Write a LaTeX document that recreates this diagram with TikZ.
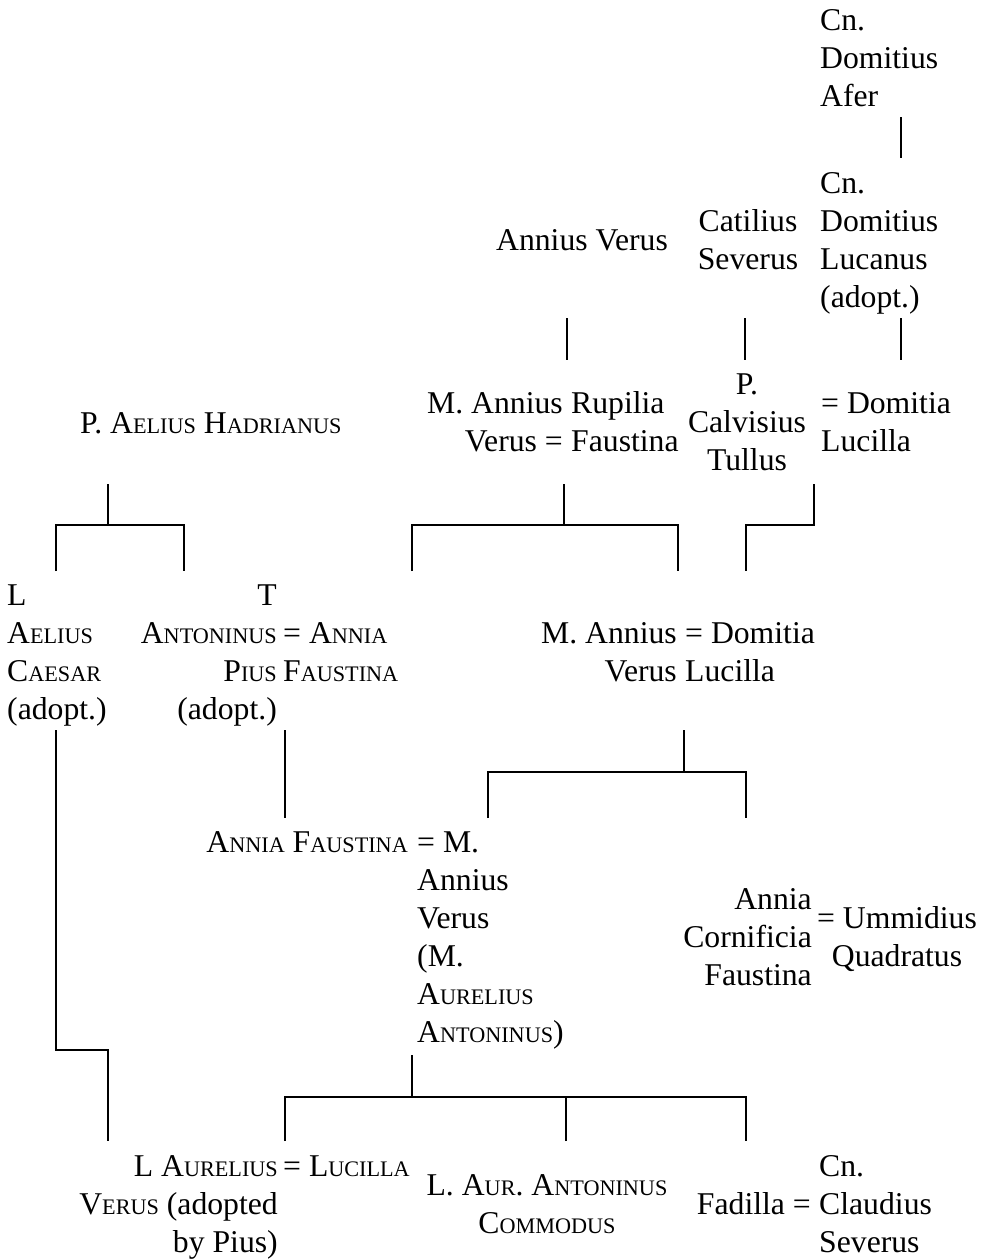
\documentclass[tikz,border=0pt]{standalone}
\usepackage{fontspec}
\setmainfont{Liberation Serif}
\usepackage{tikz}
\usetikzlibrary{positioning}

% small capitals made from scaled capitals
\newcommand{\smc}[1]{{\fontsize{22.2}{38}\selectfont #1}}
\newcommand{\famtext}[2]{\begin{tabular}[t]{@{}#1@{}}#2\end{tabular}}

\begin{document}
\begin{tikzpicture}[x=1pt,y=-1pt,inner sep=0pt,
  font=\fontsize{31.7}{38}\selectfont,
  famline/.style={line width=2pt}]
\useasboundingbox (0,0) rectangle (989,1259);

% names
\node[anchor=base west] (afer) at (820,30) {\famtext{l}{Cn.\\Domitius\\Afer}};
\node[anchor=base west] (lucanus) at (820,193) {\famtext{l}{Cn.\\Domitius\\Lucanus\\(adopt.)}};
\node[anchor=base] (anverus) at (582,250) {Annius Verus};
\node[anchor=base] (catilius) at (748,231) {\famtext{c}{Catilius\\Severus}};
\node[anchor=base east] (rupverus) at (563,413) {\famtext{r}{M. Annius\\Verus =}};
\node[anchor=base west] (rupilia) at (571,413) {\famtext{l}{Rupilia\\Faustina}};
\node[anchor=base] (tullus) at (747,394) {\famtext{c}{P.\\Calvisius\\Tullus}};
\node[anchor=base west] (domlucA) at (821,413) {\famtext{l}{= Domitia\\Lucilla}};
\node[anchor=base west] (hadrian) at (80,433) {P. A\smc{ELIUS} H\smc{ADRIANUS}};
\node[anchor=base west] (aelius) at (7,605) {\famtext{l}{L\\A\smc{ELIUS}\\C\smc{AESAR}\\(adopt.)}};
\node[anchor=base east] (pius) at (277,605) {\famtext{r}{T\\A\smc{NTONINUS}\\P\smc{IUS}\\(adopt.)}};
\node[anchor=base west] (faustinaA) at (283,643) {\famtext{l}{= A\smc{NNIA}\\F\smc{AUSTINA}}};
\node[anchor=base east] (mverus) at (677,643) {\famtext{r}{M. Annius\\Verus}};
\node[anchor=base west] (domlucB) at (685,643) {\famtext{l}{= Domitia\\Lucilla}};
\node[anchor=base east] (faustinaB) at (408,852) {A\smc{NNIA} F\smc{AUSTINA}};
\node[anchor=base west] (marcus) at (417,852) {\famtext{l}{= M.\\Annius\\Verus\\(M.\\A\smc{URELIUS}\\A\smc{NTONINUS})}};
\node[anchor=base east] (cornificia) at (812,909) {\famtext{r}{Annia\\Cornificia\\Faustina}};
\node[anchor=base] (ummidius) at (897,928) {\famtext{c}{= Ummidius\\Quadratus}};
\node[anchor=base east] (lverus) at (278,1176) {\famtext{r}{L A\smc{URELIUS}\\V\smc{ERUS} (adopted\\by Pius)}};
\node[anchor=base west] (lucilla) at (283,1176) {= L\smc{UCILLA}};
\node[anchor=base] (commodus) at (547,1195) {\famtext{c}{L. A\smc{UR}. A\smc{NTONINUS}\\C\smc{OMMODUS}}};
\node[anchor=base east] (fadilla) at (811,1214) {Fadilla =};
\node[anchor=base west] (claudius) at (819,1176) {\famtext{l}{Cn.\\Claudius\\Severus}};

% line ends
\coordinate (afer-s) at (901,117);
\coordinate (lucanus-n) at (901,158);
\coordinate (lucanus-s) at (901,318);
\coordinate (domlucA-n) at (901,360);
\coordinate (anverus-s) at (567,318);
\coordinate (rupverus-n) at (567,360);
\coordinate (catilius-s) at (745,318);
\coordinate (tullus-n) at (745,360);
\coordinate (hadrian-s) at (108,484);
\coordinate (hadrian-j) at (108,525);
\coordinate (aelius-n) at (56,571);
\coordinate (pius-n) at (184,571);
\coordinate (rupilia-s) at (564,484);
\coordinate (rupilia-j) at (564,525);
\coordinate (faustinaA-n) at (412,571);
\coordinate (mverus-n) at (678,571);
\coordinate (tullus-s) at (814,484);
\coordinate (tullus-j) at (814,525);
\coordinate (domlucB-n) at (746,571);
\coordinate (pius-s) at (285,730);
\coordinate (faustinaB-n) at (285,818);
\coordinate (aelius-s) at (56,730);
\coordinate (lverus-j) at (108,1050);
\coordinate (lverus-n) at (108,1141);
\coordinate (mverus-s) at (684,730);
\coordinate (mverus-j) at (684,772);
\coordinate (marcus-n) at (488,818);
\coordinate (cornificia-n) at (746,818);
\coordinate (marcus-s) at (412,1055);
\coordinate (marcus-j) at (412,1097);
\coordinate (lucilla-n) at (285,1141);
\coordinate (commodus-n) at (566,1141);
\coordinate (fadilla-n) at (746,1141);

% descent
\path[famline]
(afer-s) edge (lucanus-n)
(lucanus-s) edge (domlucA-n)
(anverus-s) edge (rupverus-n)
(catilius-s) edge (tullus-n)
(pius-s) edge (faustinaB-n);
\draw[famline] (hadrian-s) -- (hadrian-j) (aelius-n) |- (hadrian-j) -| (pius-n);
\draw[famline] (rupilia-s) -- (rupilia-j) (faustinaA-n) |- (rupilia-j) -| (mverus-n);
\draw[famline] (tullus-s) |- (domlucB-n |- tullus-j) -- (domlucB-n);
\draw[famline] (aelius-s) |- (lverus-j) -- (lverus-n);
\draw[famline] (mverus-s) -- (mverus-j) (marcus-n) |- (mverus-j) -| (cornificia-n);
\draw[famline] (marcus-s) -- (marcus-j) (lucilla-n) |- (marcus-j) -| (fadilla-n)
  (commodus-n) -- (commodus-n |- marcus-j);
\end{tikzpicture}
\end{document}
